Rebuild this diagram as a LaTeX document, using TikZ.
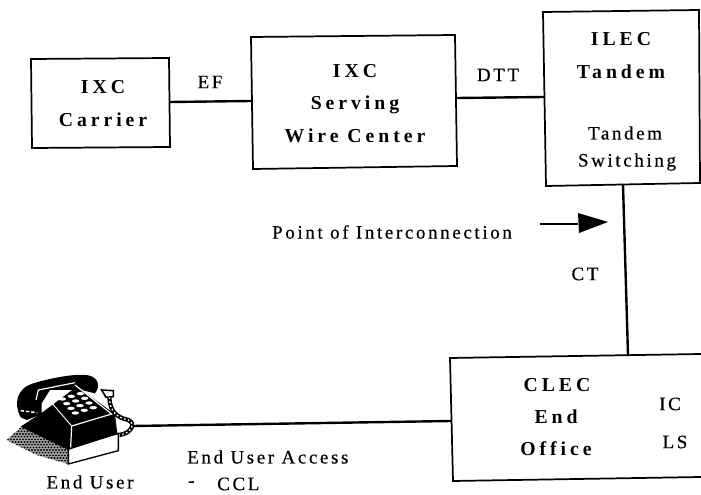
\documentclass[tikz,border=0pt]{standalone}
\usepackage{fontspec}
\setmainfont{Liberation Serif}
\newfontfamily\labelfont[LetterSpace=14,FakeBold=0.5]{Liberation Serif}
\newfontfamily\boldlabel[LetterSpace=20]{Liberation Serif Bold}
\tikzset{
  boxshape/.style={draw=black,line width=1.3pt,fill=white},
  wire/.style={draw=black,line width=1.8pt},
  boxtitle/.style={font=\boldlabel\fontsize{14.8}{14.8}\selectfont,inner sep=0pt},
  plainlabel/.style={font=\labelfont\fontsize{14.2}{14.2}\selectfont,inner sep=0pt},
}
\begin{document}
\begin{tikzpicture}[x=0.75pt,y=-0.75pt]
\useasboundingbox (0,0) rectangle (701,495);
\fill[white] (0,0) rectangle (701,495);
% boxes
\path[boxshape] (31,59) -- (169,58) -- (170,147) -- (32,148) -- cycle;
\path[boxshape] (251,37) -- (455,35) -- (457,166) -- (253,169) -- cycle;
\path[boxshape] (543,12) -- (699,10) -- (700,183) -- (546,186) -- cycle;
\draw[draw=black,line width=1.3pt,fill=white] (701,354) -- (450,358) -- (453,481) -- (701,477);
% anchors for connectors
\coordinate (carrierE) at (170,102);
\coordinate (servingW) at (251,101);
\coordinate (servingE) at (457,98);
\coordinate (tandemW) at (544,97);
\coordinate (tandemS) at (623,185);
\coordinate (clecN) at (628,355);
\coordinate (clecW) at (451,421);
\coordinate (phoneCord) at (133,426);
\coordinate (poiStart) at (540,224);
\coordinate (poiEnd) at (608,222);
\draw[wire] (carrierE) -- (servingW);
\draw[wire] (servingE) -- (tandemW);
\draw[wire] (tandemS) -- (clecN);
\draw[wire] (phoneCord) -- (clecW);
\draw[draw=black,line width=1.1pt] (poiStart) -- (578,224);
\fill[black] (578,213) -- (poiEnd) -- (579,233) -- cycle;
% text
\node[boxtitle] (t1) at (103,87) {IXC};
\node[boxtitle] (t2) at (103,120) {Carrier};
\node[plainlabel] (ef) at (210,82) {EF};
\node[boxtitle] (t3) at (355,71) {IXC};
\node[boxtitle] (t4) at (355,105) {Serving};
\node[boxtitle] (t5) at (355,136) {Wire Center};
\node[plainlabel] (dtt) at (498,75) {DTT};
\node[boxtitle] (t6) at (621,39) {ILEC};
\node[boxtitle] (t7) at (621,72) {Tandem};
\node[plainlabel] (t8) at (625,133) {Tandem};
\node[plainlabel] (t9) at (627,162) {Switching};
\node[plainlabel] (poi) at (392,232) {Point of Interconnection};
\node[plainlabel] (ct) at (585,274) {CT};
\node[boxtitle] (t10) at (557,385) {CLEC};
\node[boxtitle] (t11) at (556,417) {End};
\node[boxtitle] (t12) at (556,449) {Office};
\node[plainlabel] (ic) at (670,404) {IC};
\node[plainlabel] (ls) at (675,442) {LS};
\node[plainlabel] (eu) at (90,482) {End User};
\node[plainlabel,anchor=west] (eua) at (187,457) {End User Access};
\node[plainlabel,anchor=west] (dash) at (188,484) {-};
\node[plainlabel,anchor=west] (ccl) at (217,484) {CCL};
% telephone, drawn in a local grid
\begin{scope}[shift={(0,340)},x=0.25pt,y=-0.25pt]
  \begin{scope}
    \clip (20,300) -- (70,255) -- (210,325) -- (205,372) -- (110,345) -- cycle;
    \fill[black!35] (0,240) rectangle (220,380);
    \foreach \i in {0,...,24}
      \foreach \j in {0,...,15}
        \fill[black] ({15+\i*9+mod(\j,2)*4.5},{250+\j*8}) circle (3.2);
  \end{scope}
  \draw[black,line width=1pt,fill=white] (205,325) -- (355,280) -- (355,332) -- (205,372) -- cycle;
  % body
  \fill[black] (62,260) -- (130,215) -- (230,140) -- (345,222) -- (352,282) -- (205,330) -- cycle;
  % handset
  \fill[black] (62,232) .. controls (40,190) and (50,145) .. (100,130) .. controls (160,112) and (230,100) .. (265,106) .. controls (295,112) and (302,140) .. (285,160) -- (245,150) -- (150,150) -- (125,190) -- (125,222) -- (80,240) -- cycle;
  \draw[white,line width=0.9pt] (108,180) -- (115,150) -- (225,128);
  \draw[white,line width=1.1pt,dash pattern=on 2.5pt off 1.5pt] (62,212) -- (112,218);
  % face edges
  \draw[white,line width=0.9pt] (225,135) -- (335,222) -- (215,258) -- (212,322);
  \draw[white,line width=0.7pt] (152,185) -- (215,258);
  % keys
  \foreach \i in {0,1,2,3}
    \foreach \j in {0,1,2}
      \fill[white] ({187+\j*27+\i*13},{177-\j*8+\i*14}) ellipse [x radius=11,y radius=5];
  % cord
  \draw[black,line width=1.2pt,fill=white] (305,150) -- (340,152) -- (340,170) -- (318,172) -- cycle;
  \draw[black,line width=3.2pt] (328,172) .. controls (330,215) and (350,232) .. (385,240) .. controls (408,250) and (395,280) .. (358,285);
  \draw[white,line width=1pt,dash pattern=on 1.2pt off 1.8pt] (328,172) .. controls (330,215) and (350,232) .. (385,240) .. controls (408,250) and (395,280) .. (358,285);
\end{scope}
\end{tikzpicture}
\end{document}
